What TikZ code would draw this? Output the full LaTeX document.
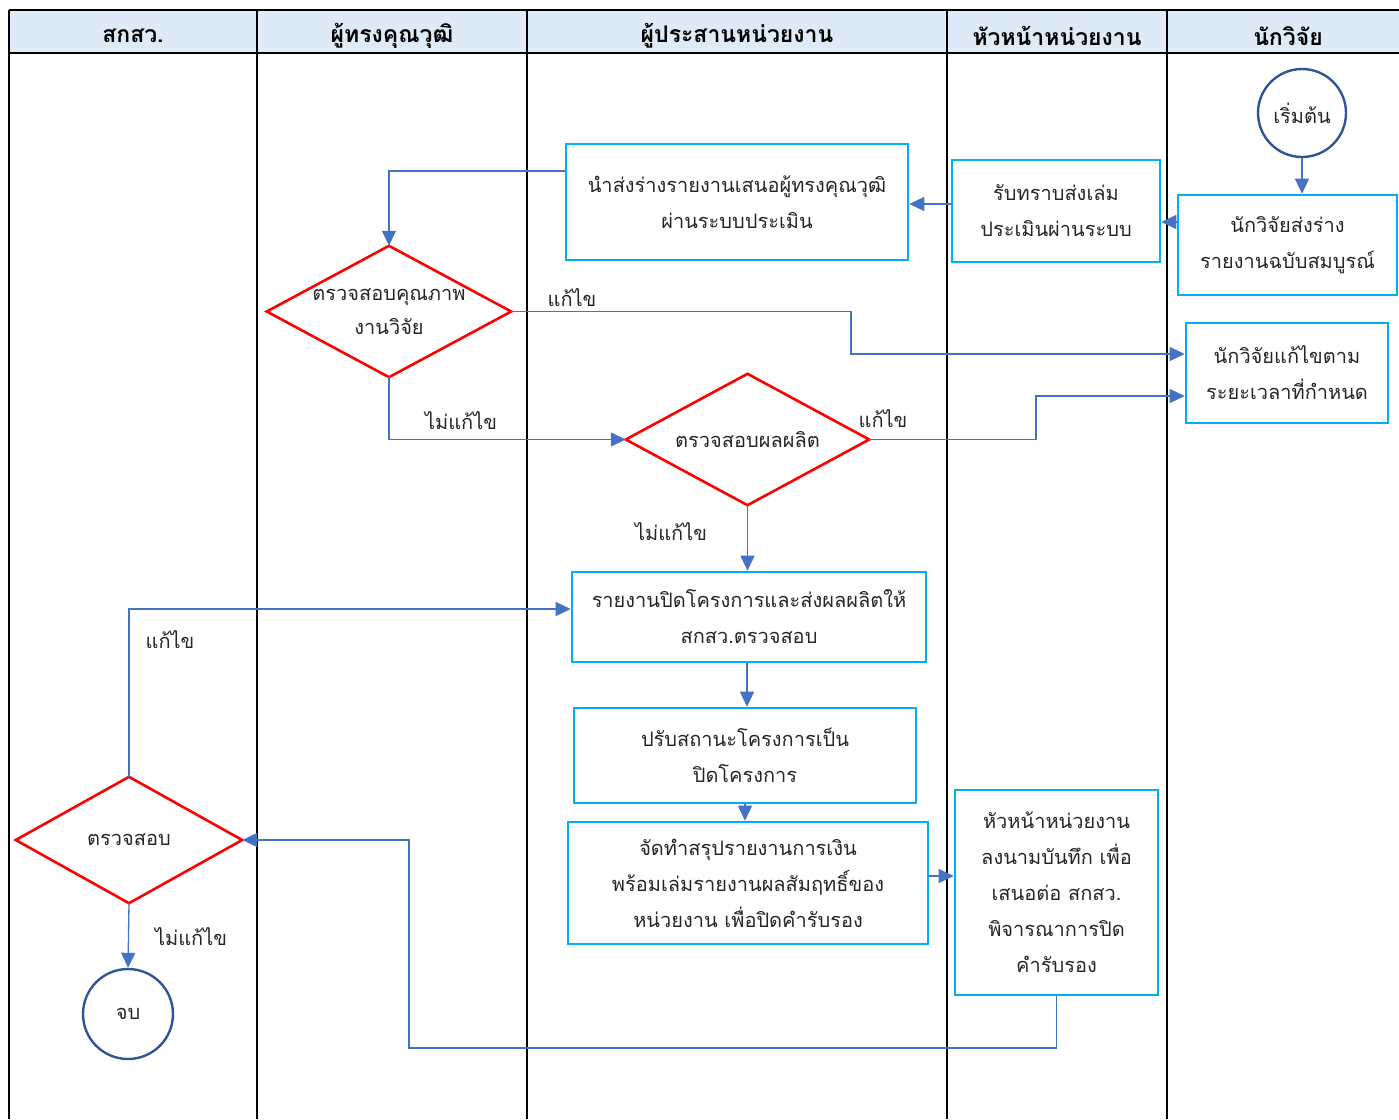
\documentclass[tikz,border=0pt]{standalone}
\usepackage{fontspec}
\newfontfamily\thai[Script=Thai]{Loma}
\usetikzlibrary{arrows.meta}
\definecolor{hdr}{HTML}{DEEAF6}
\definecolor{boxc}{HTML}{00B0F0}
\definecolor{conn}{HTML}{4472C4}
\definecolor{circ}{HTML}{2F5597}
\begin{document}
\begin{tikzpicture}[x=1pt,y=-1pt,
  every node/.style={font=\thai\fontsize{20}{36}\selectfont, align=center, inner sep=0pt, text=black!85},
  proc/.style={draw=boxc, line width=2.6pt},
  term/.style={circle, draw=circ, line width=2.4pt},
  arr/.style={draw=conn, line width=1.3pt, -{Triangle[length=15pt,width=14pt]}},
  lbl/.style={},
  hdrtext/.style={font=\thai\bfseries\fontsize{23}{26}\selectfont, text=black}
]
\useasboundingbox (0,0) rectangle (1399,1119);
% header
\fill[hdr] (9,10) rectangle (1399,53);
\draw[line width=2pt] (9,10) -- (1399,10);
\draw[line width=2pt] (9,53) -- (1399,53);
\foreach \x in {9,257,527,947,1167} \draw[line width=2pt] (\x,10) -- (\x,1119);
\node[hdrtext] (h-a) at (133,36) {สกสว.};
\node[hdrtext] (h-b) at (392,36) {ผู้ทรงคุณวุฒิ};
\node[hdrtext] (h-c) at (737,36) {ผู้ประสานหน่วยงาน};
\node[hdrtext] (h-d) at (1057,36) {หัวหน้าหน่วยงาน};
\node[hdrtext] (h-e) at (1288,36) {นักวิจัย};

% nodes
\node[term, minimum size=88pt] (start) at (1302,113) {เริ่มต้น};
\node[proc, minimum width=219pt, minimum height=100pt] (r1) at (1287.5,245) {นักวิจัยส่งร่าง\\รายงานฉบับสมบูรณ์};
\node[proc, minimum width=202pt, minimum height=100pt] (r2) at (1287,373) {นักวิจัยแก้ไขตาม\\ระยะเวลาที่กำหนด};
\node[proc, minimum width=208pt, minimum height=102pt] (h1) at (1056,211) {รับทราบส่งเล่ม\\ประเมินผ่านระบบ};
\node[proc, minimum width=342pt, minimum height=116pt] (c1) at (737,202) {นำส่งร่างรายงานเสนอผู้ทรงคุณวุฒิ\\ผ่านระบบประเมิน};
\node[minimum width=244pt, minimum height=131pt] (d1) at (389,311.5) {\raisebox{-4pt}{\shortstack{ตรวจสอบคุณภาพ\\[10pt]งานวิจัย}}};
\draw[red, line width=2.6pt] (d1.north) -- (d1.east) -- (d1.south) -- (d1.west) -- cycle;
\node[minimum width=243pt, minimum height=131pt] (d2) at (747.5,439.5) {ตรวจสอบผลผลิต};
\draw[red, line width=2.6pt] (d2.north) -- (d2.east) -- (d2.south) -- (d2.west) -- cycle;
\node[proc, minimum width=354pt, minimum height=90pt] (c2) at (749,617) {รายงานปิดโครงการและส่งผลผลิตให้\\สกสว.ตรวจสอบ};
\node[proc, minimum width=342pt, minimum height=95pt] (c3) at (745,755.5) {ปรับสถานะโครงการเป็น\\ปิดโครงการ};
\node[proc, minimum width=360pt, minimum height=122pt] (c4) at (748,883) {จัดทำสรุปรายงานการเงิน\\พร้อมเล่มรายงานผลสัมฤทธิ์ของ\\หน่วยงาน เพื่อปิดคำรับรอง};
\node[proc, minimum width=203pt, minimum height=205pt] (h2) at (1056.5,892.5) {หัวหน้าหน่วยงาน\\ลงนามบันทึก เพื่อ\\เสนอต่อ สกสว.\\พิจารณาการปิด\\คำรับรอง};
\node[minimum width=226pt, minimum height=126pt] (d3) at (129,840) {ตรวจสอบ};
\draw[red, line width=2.6pt] (d3.north) -- (d3.east) -- (d3.south) -- (d3.west) -- cycle;
\node[term, minimum size=90pt] (end) at (128,1014) {จบ};

% connectors
\draw[arr] (start.south) -- (start.south |- r1.north);
\draw[arr] (r1.west |- 0,222) -- (h1.east |- 0,222);
\draw[arr] (h1.west |- 0,204) -- (c1.east |- 0,204);
\draw[arr] (c1.west |- 0,171) -- (d1.north |- 0,171) -- (d1.north);
\draw[arr] (d1.east) -- (851,311.5) -- (851,354) -- (r2.west |- 0,354);
\draw[arr] (d1.south) -- (d1.south |- d2.west) -- (d2.west);
\draw[arr] (d2.east) -- (1036,439.5) -- (1036,396) -- (r2.west |- 0,396);
\draw[arr] (d2.south) -- (d2.south |- c2.north);
\draw[arr] (c2.south -| 747,0) -- (c3.north -| 747,0);
\draw[arr] (c3.south) -- (c4.north -| c3.south);
\draw[arr] (c4.east |- 0,876) -- (h2.west |- 0,876);
\draw[arr] (h2.south) -- (h2.south |- 0,1048) -- (409,1048) -- (409,840) -- (d3.east);
\draw[arr] (d3.north) -- (d3.north |- 0,609) -- (c2.west |- 0,609);
\draw[arr] (d3.south) -- (end.north);

% labels
\node[lbl] (l1) at (572,298) {แก้ไข};
\node[lbl] (l2) at (461,421) {ไม่แก้ไข};
\node[lbl] (l3) at (883,419) {แก้ไข};
\node[lbl] (l4) at (671,532) {ไม่แก้ไข};
\node[lbl] (l5) at (170,640) {แก้ไข};
\node[lbl] (l6) at (191,937) {ไม่แก้ไข};
\end{tikzpicture}
\end{document}
